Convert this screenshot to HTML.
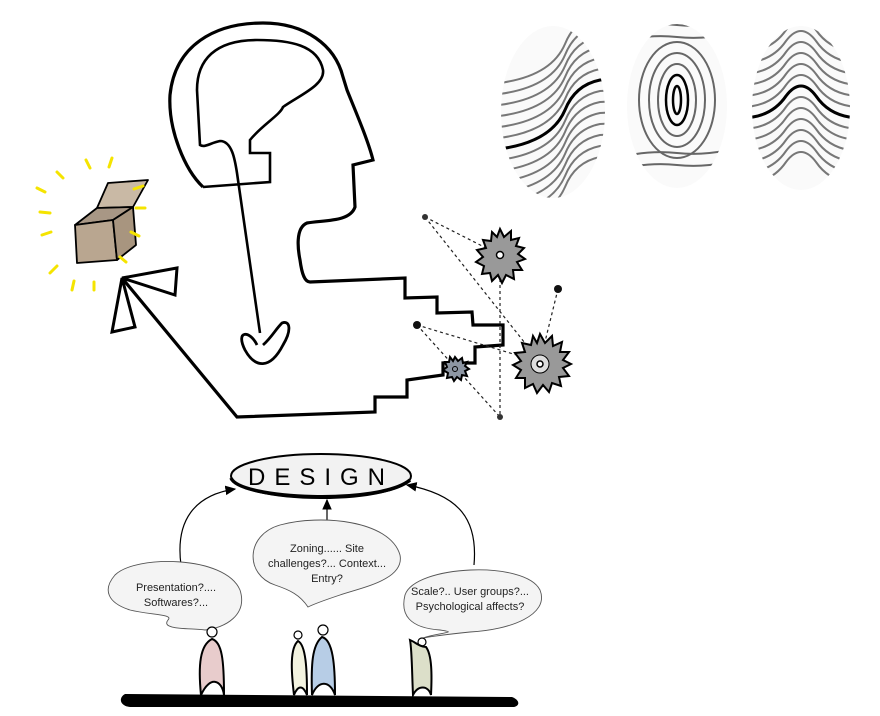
<!DOCTYPE html>
<html><head><meta charset="utf-8"><style>
html,body{margin:0;padding:0;background:#fff;}
svg{display:block;}
text{font-family:"Liberation Sans",sans-serif;}
</style></head><body>
<svg width="880" height="716" viewBox="0 0 880 716" xmlns="http://www.w3.org/2000/svg">
<defs>
<clipPath id="c1"><ellipse cx="553" cy="112" rx="52" ry="86"/></clipPath>
<clipPath id="c2"><ellipse cx="677" cy="106" rx="50" ry="82"/></clipPath>
<clipPath id="c3"><ellipse cx="801" cy="108" rx="49" ry="82"/></clipPath>
<path id="fa" d="M-70 30 Q-10 25 5 -10 Q15 -35 40 -40 Q60 -42 70 -30" fill="none"/>
<path id="fc" d="M-60 0 Q-30 0 -15 -22 Q0 -42 15 -22 Q30 0 60 0" fill="none"/>
<path id="fb" d="M-60 0 Q-30 -8 0 -5 Q30 -2 60 -10" fill="none"/>
<marker id="ar" markerWidth="10" markerHeight="10" refX="8" refY="5" orient="auto"><path d="M0 1 L9 5 L0 9 Z" fill="#000"/></marker>
</defs>

<!-- fingerprints -->
<ellipse cx="553" cy="112" rx="52" ry="86" fill="#fafafa"/>
<ellipse cx="677" cy="106" rx="50" ry="82" fill="#fafafa"/>
<ellipse cx="801" cy="108" rx="49" ry="82" fill="#fafafa"/>
<g clip-path="url(#c1)" stroke="#777" stroke-width="2">
<g transform="translate(560,120)">
<use href="#fa" transform="translate(0,-66)"/>
<use href="#fa" transform="translate(0,-55)"/><use href="#fa" transform="translate(0,-44)"/>
<use href="#fa" transform="translate(0,-33)"/><use href="#fa" transform="translate(0,-22)"/>
<use href="#fa" transform="translate(0,-11)"/>
<use href="#fa" stroke="#000" stroke-width="3"/><use href="#fa" transform="translate(0,11)"/>
<use href="#fa" transform="translate(0,22)"/><use href="#fa" transform="translate(0,33)"/>
<use href="#fa" transform="translate(0,44)"/><use href="#fa" transform="translate(0,55)"/>
<use href="#fa" transform="translate(0,66)"/><use href="#fa" transform="translate(0,77)"/>
</g></g>
<g clip-path="url(#c2)" stroke="#666" stroke-width="2" fill="none">
<ellipse cx="677" cy="100" rx="4" ry="14" stroke="#000" stroke-width="2.5"/>
<ellipse cx="677" cy="100" rx="11" ry="25" stroke="#000" stroke-width="2.5"/>
<ellipse cx="677" cy="100" rx="19" ry="36"/>
<ellipse cx="677" cy="100" rx="28" ry="47"/>
<g transform="translate(677,100)">
<use href="#fb" transform="translate(0,-58)"/><use href="#fb" transform="translate(0,-70)"/>
<use href="#fb" transform="translate(0,58)"/><use href="#fb" transform="translate(0,70)"/>
</g>
<ellipse cx="677" cy="100" rx="38" ry="58"/>
</g>
<g clip-path="url(#c3)" stroke="#777" stroke-width="2">
<g transform="translate(801,118)">
<use href="#fc" transform="translate(0,-66)"/>
<use href="#fc" transform="translate(0,-55)"/><use href="#fc" transform="translate(0,-44)"/>
<use href="#fc" transform="translate(0,-33)"/><use href="#fc" transform="translate(0,-22)"/>
<use href="#fc" transform="translate(0,-11)"/>
<use href="#fc" stroke="#000" stroke-width="3"/><use href="#fc" transform="translate(0,11)"/>
<use href="#fc" transform="translate(0,22)"/><use href="#fc" transform="translate(0,33)"/>
<use href="#fc" transform="translate(0,44)"/><use href="#fc" transform="translate(0,55)"/>
<use href="#fc" transform="translate(0,66)"/>
</g></g>

<!-- head outer + stairs -->
<path d="M203 187 C185 170 168 130 170 95 C175 45 215 23 263 23 C305 23 335 45 343 77 L347 90 C355 110 368 140 373 160 L353 165 L355 207 C350 222 325 220 307 223 C295 228 298 250 300 260 C302 275 305 282 310 282 L405 278 L405 298 L437 297 L437 313 L472 312 L473 325 L503 325 L503 345 L475 347 L475 363 L443 363 L443 375 L407 380 L407 397 L375 397 L375 412 L237 417 L122 278" fill="none" stroke="#000" stroke-width="3.2" stroke-linejoin="miter"/>
<path d="M122 278 L112 332 L135 327 Z" fill="#fff" stroke="#000" stroke-width="3"/>
<path d="M122 278 L177 268 L175 295 Z" fill="#fff" stroke="#000" stroke-width="3"/>
<path d="M203 187 L270 182 L270 153 L250 153 L250 140 C262 125 280 115 283 107 C300 95 325 85 323 70 C318 45 290 40 257 40 C215 40 197 60 197 90 L200 145 C205 148 210 143 220 141 C232 141 235 160 237 173 L260 333" fill="none" stroke="#000" stroke-width="2.6"/>
<path d="M257 345 C250 330 235 330 245 350 C255 368 270 370 283 345 C292 330 290 320 282 323 C275 330 272 337 263 345" fill="none" stroke="#000" stroke-width="2.8"/>

<!-- box -->
<g stroke="#000" stroke-width="1.8" stroke-linejoin="round">
<polygon points="97,208 108,183 148,180 133,207" fill="#c9b9a5"/>
<polygon points="75,225 97,208 133,207 113,220" fill="#a89785"/>
<polygon points="75,225 113,220 117,260 77,263" fill="#b9a690"/>
<polygon points="113,220 133,207 136,245 117,260" fill="#a8957f"/>
</g>
<g stroke="#f5e400" stroke-width="3" stroke-linecap="round">
<line x1="86" y1="160" x2="90" y2="168"/><line x1="112" y1="158" x2="109" y2="167"/>
<line x1="57" y1="172" x2="63" y2="178"/><line x1="37" y1="188" x2="45" y2="192"/>
<line x1="40" y1="212" x2="50" y2="213"/><line x1="42" y1="235" x2="51" y2="232"/>
<line x1="50" y1="273" x2="57" y2="266"/><line x1="72" y1="290" x2="74" y2="281"/>
<line x1="94" y1="290" x2="94" y2="282"/><line x1="134" y1="189" x2="143" y2="186"/>
<line x1="136" y1="208" x2="145" y2="208"/><line x1="131" y1="232" x2="139" y2="236"/>
<line x1="120" y1="257" x2="126" y2="262"/>
</g>

<!-- gears -->
<g stroke="#222" stroke-width="1.2" stroke-dasharray="3,3" fill="none">
<line x1="425" y1="217" x2="500" y2="255"/><line x1="425" y1="217" x2="540" y2="362"/>
<line x1="500" y1="255" x2="500" y2="417"/><line x1="417" y1="325" x2="540" y2="362"/>
<line x1="417" y1="325" x2="500" y2="417"/><line x1="558" y1="289" x2="540" y2="362"/>
</g>
<g stroke="#000" stroke-width="2">
<polygon fill="#999" points="500,229 504,237 511,231 511,240 519,238 516,246 524,248 518,254 525,259 517,262 522,270 513,270 514,279 506,275 502,283 498,275 492,281 490,273 482,274 484,266 476,262 483,257 477,250 486,248 483,240 491,241 492,232 497,237"/>
<polygon fill="#999" points="540,334 545,343 552,336 553,346 562,342 560,352 569,352 563,360 571,364 563,368 569,376 559,377 561,386 552,383 549,392 543,385 537,393 533,384 525,388 525,378 516,378 521,370 513,365 521,361 515,353 525,352 522,343 531,345 533,336 537,343"/>
<polygon fill="#8d96a3" points="455,357 458,361 462,358 463,363 467,362 465,366 469,369 465,371 467,376 462,375 461,380 457,377 454,381 452,377 447,378 448,373 443,370 447,367 445,362 449,362 450,357 453,361"/>
</g>
<circle cx="500" cy="255" r="3.5" fill="#fff" stroke="#000" stroke-width="1.5"/>
<circle cx="540" cy="364" r="9" fill="#ddd" stroke="#000" stroke-width="1"/>
<circle cx="540" cy="364" r="3" fill="#fff" stroke="#000" stroke-width="1.5"/>
<circle cx="455" cy="369" r="2.5" fill="none" stroke="#000" stroke-width="1"/>
<circle cx="425" cy="217" r="3" fill="#333"/><circle cx="558" cy="289" r="4" fill="#111"/>
<circle cx="417" cy="325" r="4" fill="#111"/><circle cx="500" cy="417" r="3" fill="#333"/>

<!-- bottom -->
<ellipse cx="321" cy="476" rx="90" ry="22" fill="#f2f2f2" stroke="#000" stroke-width="2"/>
<path d="M231 478 C240 500 380 505 410 480" fill="none" stroke="#000" stroke-width="3.5"/>
<text x="321" y="485" text-anchor="middle" font-size="24" letter-spacing="9" font-family="Liberation Mono,monospace">DESIGN</text>

<path d="M181 565 C175 520 195 495 235 489" fill="none" stroke="#000" stroke-width="1.2" marker-end="url(#ar)"/>
<path d="M474 565 C478 520 460 495 407 485" fill="none" stroke="#000" stroke-width="1.2" marker-end="url(#ar)"/>
<line x1="327" y1="532" x2="327" y2="500" stroke="#000" stroke-width="1.2" marker-end="url(#ar)"/>

<g fill="#f4f4f4" stroke="#555" stroke-width="0.9">
<path d="M205 630 C190 628 160 630 168 620 C174 614 150 615 130 610 C108 603 102 590 115 575 C135 555 225 555 240 590 C248 615 225 628 205 630 Z"/>
<path d="M308 607 C300 595 290 590 275 585 C245 575 245 535 280 525 C320 514 390 520 400 555 C405 580 360 588 340 595 C325 600 312 605 308 607 Z"/>
<path d="M423 638 C440 632 460 633 440 630 C410 628 400 615 405 595 C415 565 525 560 540 590 C550 615 510 630 470 632 C450 634 435 636 423 638 Z"/>
</g>
<g font-size="11" fill="#222" text-anchor="middle">
<text x="176" y="591">Presentation?....</text>
<text x="176" y="606">Softwares?...</text>
<text x="327" y="552">Zoning...... Site</text>
<text x="327" y="567">challenges?... Context...</text>
<text x="327" y="582">Entry?</text>
<text x="470" y="595">Scale?.. User groups?...</text>
<text x="470" y="610">Psychological affects?</text>
</g>

<!-- people -->
<g stroke="#000" stroke-width="2">
<circle cx="212" cy="632" r="5" fill="#fff" stroke-width="1.2"/>
<path d="M201 695 C198 665 200 645 212 639 C222 642 224 660 224 695 C222 680 210 675 201 695 Z" fill="#e8cccc"/>
<circle cx="298" cy="635" r="4" fill="#fff" stroke-width="1.2"/>
<path d="M294 695 C291 670 290 648 298 641 C306 645 307 670 307 695 C303 685 298 685 294 695 Z" fill="#f3f3e0"/>
<circle cx="323" cy="630" r="5" fill="#fff" stroke-width="1.2"/>
<path d="M312 695 C311 665 312 645 322 637 C333 640 335 665 335 695 C330 680 318 680 312 695 Z" fill="#b7cde6"/>
<circle cx="422" cy="642" r="4" fill="#fff" stroke-width="1.2"/>
<path d="M410 640 C415 642 420 647 426 647 C432 655 432 675 431 695 C428 685 418 685 413 695 C412 675 412 650 410 640 Z" fill="#dcdfc9"/>
</g>
<path d="M125 694 L512 697 C520 700 520 706 514 707 L130 707 C120 706 118 698 125 694 Z" fill="#000"/>
</svg>
</body></html>
